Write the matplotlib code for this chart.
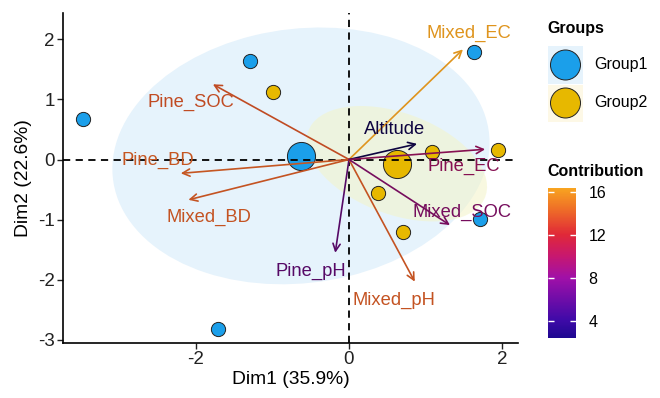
import numpy as np
import matplotlib
matplotlib.use("Agg")
import matplotlib.pyplot as plt
from matplotlib.colors import LinearSegmentedColormap, Normalize
from matplotlib.patches import Ellipse, Rectangle
import matplotlib.colorbar as mcolorbar

plt.rcParams['font.family'] = ['Liberation Sans', 'DejaVu Sans']

# ---------------- data ----------------
group_names = ["Group1", "Group2"]
group1_x = [-3.48, -1.29, -1.71, 1.63, 1.71]
group1_y = [0.67, 1.64, -2.81, 1.79, -0.99]
group2_x = [-0.99, 1.09, 1.95, 0.38, 0.70]
group2_y = [1.13, 0.13, 0.16, -0.56, -1.21]

var_names = ["Mixed_EC", "Altitude", "Pine_EC", "Pine_SOC", "Pine_BD",
             "Mixed_BD", "Pine_pH", "Mixed_pH", "Mixed_SOC"]
var_x = [1.49, 0.89, 1.78, -1.78, -2.20, -2.10, -0.18, 0.86, 1.32]
var_y = [1.83, 0.26, 0.17, 1.25, -0.23, -0.67, -1.55, -2.03, -1.09]
contrib = [16.4, 2.4, 9.8, 13.8, 14.2, 14.1, 7.3, 14.1, 9.0]

x_label = "Dim1 (35.9%)"
y_label = "Dim2 (22.6%)"
x_ticks = [-2, 0, 2]
y_ticks = [-3, -2, -1, 0, 1, 2]
cbar_ticks = [4, 8, 12, 16]

# ---------------- styles / positions ----------------
group_colors = ["#1B9FEA", "#E7B800"]
ellipse_fill = ["#E6F3FC", "#F4F4C8"]
ellipse_alpha = [1.0, 0.55]
label_offsets = {  # pixel offsets of label centre from arrow tip
    "Mixed_EC": (6, 16), "Altitude": (-22, 14), "Pine_EC": (-21, -17),
    "Pine_SOC": (-22, -18), "Pine_BD": (-23, 13), "Mixed_BD": (21, -18),
    "Pine_pH": (-24, -19), "Mixed_pH": (-21, -19), "Mixed_SOC": (12, 13),
}
cmap = LinearSegmentedColormap.from_list("contrib", [
    (0.0, "#1E0890"), (0.12, "#3F0AA8"), (0.4, "#A010A8"),
    (0.55, "#C8186E"), (0.69, "#E02838"), (0.85, "#EE6A28"), (1.0, "#F8A420")])

W, H = 660, 398
fig = plt.figure(figsize=(6.6, 3.98), dpi=100)
ax = fig.add_axes([63 / W, 1 - 343 / H, (518 - 63) / W, (343 - 12.7) / H])
ax.set_xlim(-3.74, 2.21)
ax.set_ylim(-3.05, 2.44)

groups = [(np.array(group1_x), np.array(group1_y)),
          (np.array(group2_x), np.array(group2_y))]

# ellipses (confidence ellipse of group mean)
r = np.sqrt(5.991)
for (gx, gy), col, a in zip(groups, ellipse_fill, ellipse_alpha):
    n = len(gx)
    cov = np.cov(np.vstack([gx, gy])) / n
    vals, vecs = np.linalg.eigh(cov)
    order = vals.argsort()[::-1]
    vals, vecs = vals[order], vecs[:, order]
    ang = np.degrees(np.arctan2(vecs[1, 0], vecs[0, 0]))
    e = Ellipse((gx.mean(), gy.mean()), 2 * r * np.sqrt(vals[0]), 2 * r * np.sqrt(vals[1]),
                angle=ang, facecolor=col, alpha=a, edgecolor='none', zorder=1)
    ax.add_patch(e)

# points
for (gx, gy), col in zip(groups, group_colors):
    ax.scatter(gx, gy, s=105, c=col, edgecolors='#222222', linewidths=0.7, zorder=3)
    ax.scatter([gx.mean()], [gy.mean()], s=410, c=col, edgecolors='#222222',
               linewidths=0.7, zorder=3)

ax.axhline(0, color='black', lw=1.3, ls=(0, (4, 3)), zorder=4)
ax.axvline(0, color='black', lw=1.3, ls=(0, (4, 3)), zorder=4)

norm = Normalize(vmin=min(contrib), vmax=max(contrib))
for name, vx, vy, c in zip(var_names, var_x, var_y, contrib):
    base = np.array(cmap(norm(c))[:3])
    col = tuple(base * (0.45 + 0.45 * norm(c)))
    ax.annotate("", xy=(vx, vy), xytext=(0, 0),
                arrowprops=dict(arrowstyle="->", color=col, lw=1.2,
                                mutation_scale=13, shrinkA=0, shrinkB=0), zorder=5)
    ox, oy = label_offsets[name]
    ax.annotate(name, xy=(vx, vy), xytext=(ox, oy), textcoords='offset pixels',
                ha='center', va='center', fontsize=13.2, color=col, zorder=6)

for s in ['top', 'right']:
    ax.spines[s].set_visible(False)
for s in ['left', 'bottom']:
    ax.spines[s].set_linewidth(1.2)
ax.set_xticks(x_ticks)
ax.set_yticks(y_ticks)
ax.set_xticklabels([str(t) for t in x_ticks])
ax.set_yticklabels([str(t) for t in y_ticks])
ax.tick_params(labelsize=13.5, length=4, width=1.0, colors='#222222', pad=2)
ax.set_xlabel(x_label, fontsize=13.9, labelpad=2)
ax.set_ylabel(y_label, fontsize=13.9, labelpad=4)

# ---------------- legend: groups ----------------
def px(x, y):
    return (x / W, 1 - y / H)

fig.text(*px(547, 29), "Groups", fontsize=11.5, fontweight='bold', va='center', ha='left')
key_y = [65, 103]
key_bg = ["#E6F3FC", "#FDF8E6"]
for name, col, bg, ky in zip(group_names, group_colors, key_bg, key_y):
    bx, by = px(548, ky + 18.5)
    fig.add_artist(Rectangle((bx, by), 35 / W, 37 / H, transform=fig.transFigure,
                             facecolor=bg, edgecolor='none'))
    fig.add_artist(Ellipse(px(565.5, ky), 30 / W, 30 / H, transform=fig.transFigure,
                           facecolor=col, edgecolor='#222222', lw=0.7))
    fig.text(*px(594, ky), name, fontsize=11.5, va='center', ha='left')

# ---------------- legend: colorbar ----------------
fig.text(*px(547, 172), "Contribution", fontsize=11.5, fontweight='bold', va='center', ha='left')
cax = fig.add_axes([548 / W, 1 - 338 / H, 28 / W, 150 / H])
cb = mcolorbar.ColorbarBase(cax, cmap=cmap, norm=norm, orientation='vertical')
cb.outline.set_visible(False)
cb.set_ticks(cbar_ticks)
cb.set_ticklabels([str(t) for t in cbar_ticks])
cax.tick_params(length=0, labelsize=11.5, pad=9)
cax.hlines(cbar_ticks, 0, 0.2, colors='white', lw=1.0, transform=cax.get_yaxis_transform())
cax.hlines(cbar_ticks, 0.8, 1.0, colors='white', lw=1.0, transform=cax.get_yaxis_transform())

fig.savefig("out.png", dpi=100)
